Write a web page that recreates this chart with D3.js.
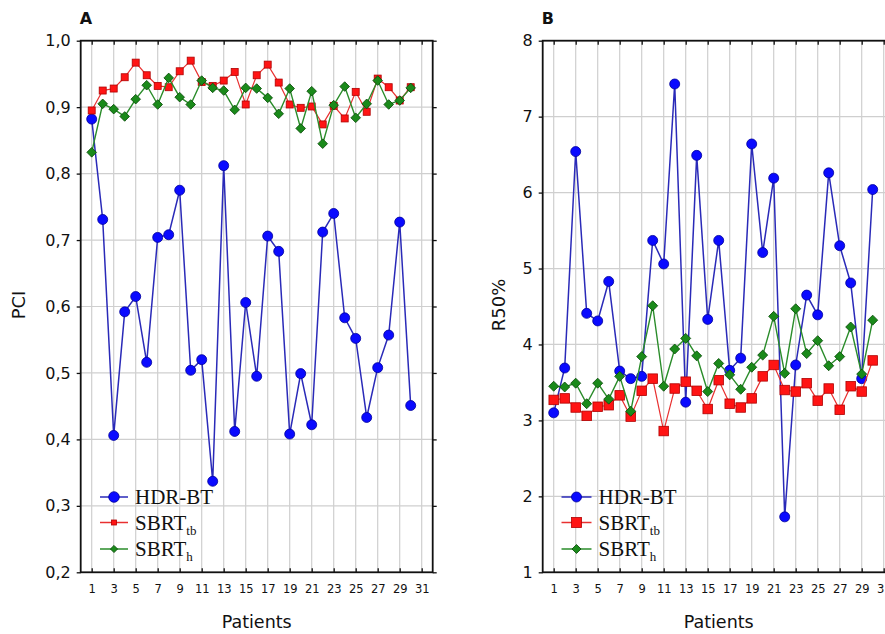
<!DOCTYPE html>
<html lang="en">
<head>
  <meta charset="UTF-8">
  <title>PCI and R50% per patient</title>
  <script src="https://d3js.org/d3.v7.min.js"></script>
  <style>
    body { margin: 0; background: #fff; }
    svg { display: block; }
  </style>
</head>
<body>
  <div id="chart"></div>
  <script>
    // patients on the x axis
    const patients = [1, 2, 3, 4, 5, 6, 7, 8, 9, 10, 11, 12, 13, 14, 15,
      16, 17, 18, 19, 20, 21, 22, 23, 24, 25, 26, 27, 28, 29, 30];
    const patientTicks = [1, 3, 5, 7, 9, 11, 13, 15, 17, 19, 21, 23, 25, 27, 29, 31];
    const seriesNames = ["HDR-BT", "SBRT", "SBRT"];
    const seriesSubs = ["", "tb", "h"];

    // panel A : PCI
    const pciHdr = [0.882, 0.731, 0.406, 0.592, 0.615, 0.516, 0.704, 0.708, 0.775, 0.504,
      0.520, 0.337, 0.812, 0.412, 0.606, 0.495, 0.706, 0.683, 0.408, 0.499,
      0.422, 0.712, 0.740, 0.583, 0.552, 0.433, 0.508, 0.557, 0.727, 0.451];
    const pciTb = [0.895, 0.925, 0.928, 0.945, 0.967, 0.948, 0.932, 0.930, 0.954, 0.970,
      0.938, 0.932, 0.940, 0.953, 0.904, 0.948, 0.964, 0.937, 0.904, 0.899,
      0.901, 0.874, 0.902, 0.883, 0.923, 0.893, 0.943, 0.930, 0.910, 0.930];
    const pciH = [0.832, 0.905, 0.897, 0.886, 0.912, 0.933, 0.904, 0.944, 0.915, 0.904,
      0.940, 0.929, 0.925, 0.896, 0.929, 0.928, 0.914, 0.890, 0.928, 0.868,
      0.924, 0.845, 0.903, 0.931, 0.884, 0.905, 0.940, 0.904, 0.910, 0.929];
    const pciTicks = [0.2, 0.3, 0.4, 0.5, 0.6, 0.7, 0.8, 0.9, 1.0];

    // panel B : R50%
    const r50Hdr = [3.10, 3.69, 6.54, 4.41, 4.31, 4.83, 3.65, 3.55, 3.58, 5.37,
      5.06, 7.43, 3.24, 6.49, 4.33, 5.37, 3.66, 3.82, 6.64, 5.21,
      6.19, 1.73, 3.73, 4.65, 4.39, 6.26, 5.30, 4.81, 3.55, 6.04];
    const r50Tb = [3.27, 3.29, 3.17, 3.06, 3.18, 3.20, 3.33, 3.05, 3.39, 3.55,
      2.86, 3.42, 3.51, 3.39, 3.15, 3.53, 3.22, 3.17, 3.29, 3.58,
      3.73, 3.40, 3.38, 3.49, 3.26, 3.42, 3.14, 3.45, 3.38, 3.79];
    const r50H = [3.45, 3.44, 3.49, 3.22, 3.49, 3.28, 3.58, 3.12, 3.84, 4.51,
      3.45, 3.94, 4.08, 3.85, 3.38, 3.75, 3.60, 3.41, 3.70, 3.86,
      4.37, 3.62, 4.47, 3.88, 4.05, 3.72, 3.84, 4.23, 3.61, 4.32];
    const r50Ticks = [1, 2, 3, 4, 5, 6, 7, 8];

    const sans = "DejaVu Sans, Verdana, sans-serif";
    const serif = "Liberation Serif, Times New Roman, serif";

    const svg = d3.select("#chart")
      .append("svg")
      .attr("width", 885)
      .attr("height", 634);

    function drawPanel(p) {
      const x = d3.scaleLinear().domain([0, 32]).range([p.left, p.left + 352]);
      const y = d3.scaleLinear().domain(p.yDomain).range([572.3, 40.7]);
      const g = svg.append("g");

      // grid
      g.selectAll(".gx").data(patientTicks).enter().append("line")
        .attr("x1", d => x(d)).attr("x2", d => x(d))
        .attr("y1", y.range()[1]).attr("y2", y.range()[0])
        .attr("stroke", "#cfcfcf").attr("stroke-width", 1.2);
      g.selectAll(".gy").data(p.yTicks).enter().append("line")
        .attr("x1", x.range()[0]).attr("x2", x.range()[1])
        .attr("y1", d => y(d)).attr("y2", d => y(d))
        .attr("stroke", "#cfcfcf").attr("stroke-width", 1.2);

      // axes
      const yAxis = g.append("g")
        .attr("transform", "translate(" + x.range()[0] + ",0)")
        .call(d3.axisLeft(y).tickValues(p.yTicks).tickSize(4).tickPadding(6).tickFormat(p.fmt));
      g.append("g")
        .attr("transform", "translate(" + x.range()[1] + ",0)")
        .call(d3.axisRight(y).tickValues(p.yTicks).tickSize(4).tickFormat(""));
      const xAxis = g.append("g")
        .attr("transform", "translate(0," + y.range()[0] + ")")
        .call(d3.axisBottom(x).tickValues(patientTicks).tickSize(-4).tickPadding(13).tickFormat(d3.format("d")));
      g.append("g")
        .attr("transform", "translate(0," + y.range()[1] + ")")
        .call(d3.axisTop(x).tickValues(patientTicks).tickSize(-4).tickFormat(""));

      g.selectAll(".domain").attr("stroke", "none");
      g.selectAll(".tick line").attr("stroke", "#111").attr("stroke-width", 1.3);
      yAxis.selectAll("text").attr("font-family", sans).attr("font-size", 16).attr("fill", "#111");
      xAxis.selectAll("text").attr("font-family", sans).attr("font-size", 11.5).attr("fill", "#111");

      // frame
      g.append("rect")
        .attr("x", x.range()[0]).attr("y", y.range()[1])
        .attr("width", x.range()[1] - x.range()[0])
        .attr("height", y.range()[0] - y.range()[1])
        .attr("fill", "none").attr("stroke", "#111").attr("stroke-width", 1.8);

      // series
      const styles = [
        { line: "#2a2ab8", lw: 1.5, fill: "#0a0aff", stroke: "#00009a", shape: "circle" },
        { line: "#e83030", lw: 1.2, fill: "#ff1414", stroke: "#b00000", shape: "square" },
        { line: "#2a8c2a", lw: 1.4, fill: "#1a8a1a", stroke: "#0b4d0b", shape: "diamond" }
      ];
      const line = d3.line().x((d, i) => x(patients[i])).y(d => y(d));

      function marker(sel, s, size) {
        if (s.shape === "circle") {
          sel.append("circle").attr("r", size.r);
        } else if (s.shape === "square") {
          sel.append("rect").attr("x", -size.sq / 2).attr("y", -size.sq / 2)
            .attr("width", size.sq).attr("height", size.sq);
        } else {
          sel.append("path").attr("d", d3.symbol(d3.symbolSquare, size.dm * size.dm * 2)())
            .attr("transform", "rotate(45)");
        }
        sel.attr("fill", s.fill).attr("stroke", s.stroke).attr("stroke-width", 0.8);
      }

      p.series.forEach((vals, k) => {
        const s = styles[k];
        g.append("path").datum(vals)
          .attr("d", line).attr("fill", "none")
          .attr("stroke", s.line).attr("stroke-width", s.lw);
        g.selectAll(".m" + k).data(vals).enter().append("g")
          .attr("transform", (d, i) => "translate(" + x(patients[i]) + "," + y(d) + ")")
          .each(function () { marker(d3.select(this), s, p.markSize); });
      });

      // legend
      const lg = g.append("g");
      [497, 522.5, 549].forEach((ly, k) => {
        const s = styles[k];
        lg.append("line")
          .attr("x1", p.legX).attr("x2", p.legX + p.legLen)
          .attr("y1", ly).attr("y2", ly)
          .attr("stroke", s.line).attr("stroke-width", 1.5);
        const m = lg.append("g").attr("transform", "translate(" + (p.legX + p.legLen / 2) + "," + ly + ")");
        marker(m, s, p.legSize[k]);
        const t = lg.append("text")
          .attr("x", p.legX + p.legLen + 7).attr("y", ly + 7)
          .attr("font-family", serif).attr("font-size", 21).attr("fill", "#111")
          .text(seriesNames[k]);
        if (seriesSubs[k]) {
          t.append("tspan").attr("font-size", 13).attr("dy", 5).text(seriesSubs[k]);
        }
      });

      // titles
      svg.append("text").attr("x", p.left - 1).attr("y", 24)
        .attr("font-family", sans).attr("font-weight", "bold").attr("font-size", 16)
        .attr("fill", "#111").text(p.title);
      svg.append("text")
        .attr("transform", "translate(" + p.yLabelX + ",305) rotate(-90)")
        .attr("text-anchor", "middle").attr("dominant-baseline", "middle")
        .attr("font-family", sans).attr("font-size", 18).attr("fill", "#111")
        .text(p.yLabel);
      svg.append("text")
        .attr("x", p.left + 176).attr("y", 628)
        .attr("text-anchor", "middle")
        .attr("font-family", sans).attr("font-size", 17.5).attr("fill", "#111")
        .text("Patients");
    }

    drawPanel({
      left: 80.7, yDomain: [0.2, 1.0], yTicks: pciTicks,
      fmt: d => d3.format(".1f")(d).replace(".", ","),
      series: [pciHdr, pciTb, pciH],
      markSize: { r: 5, sq: 7, dm: 4.8 },
      legX: 100, legLen: 28,
      legSize: [{ r: 5.3 }, { sq: 5 }, { dm: 3.6 }],
      title: "A", yLabel: "PCI", yLabelX: 20
    });

    drawPanel({
      left: 542.7, yDomain: [1, 8], yTicks: r50Ticks,
      fmt: d3.format("d"),
      series: [r50Hdr, r50Tb, r50H],
      markSize: { r: 5, sq: 9.5, dm: 5 },
      legX: 561.5, legLen: 30,
      legSize: [{ r: 5 }, { sq: 10 }, { dm: 4.5 }],
      title: "B", yLabel: "R50%", yLabelX: 500
    });
  </script>
</body>
</html>
